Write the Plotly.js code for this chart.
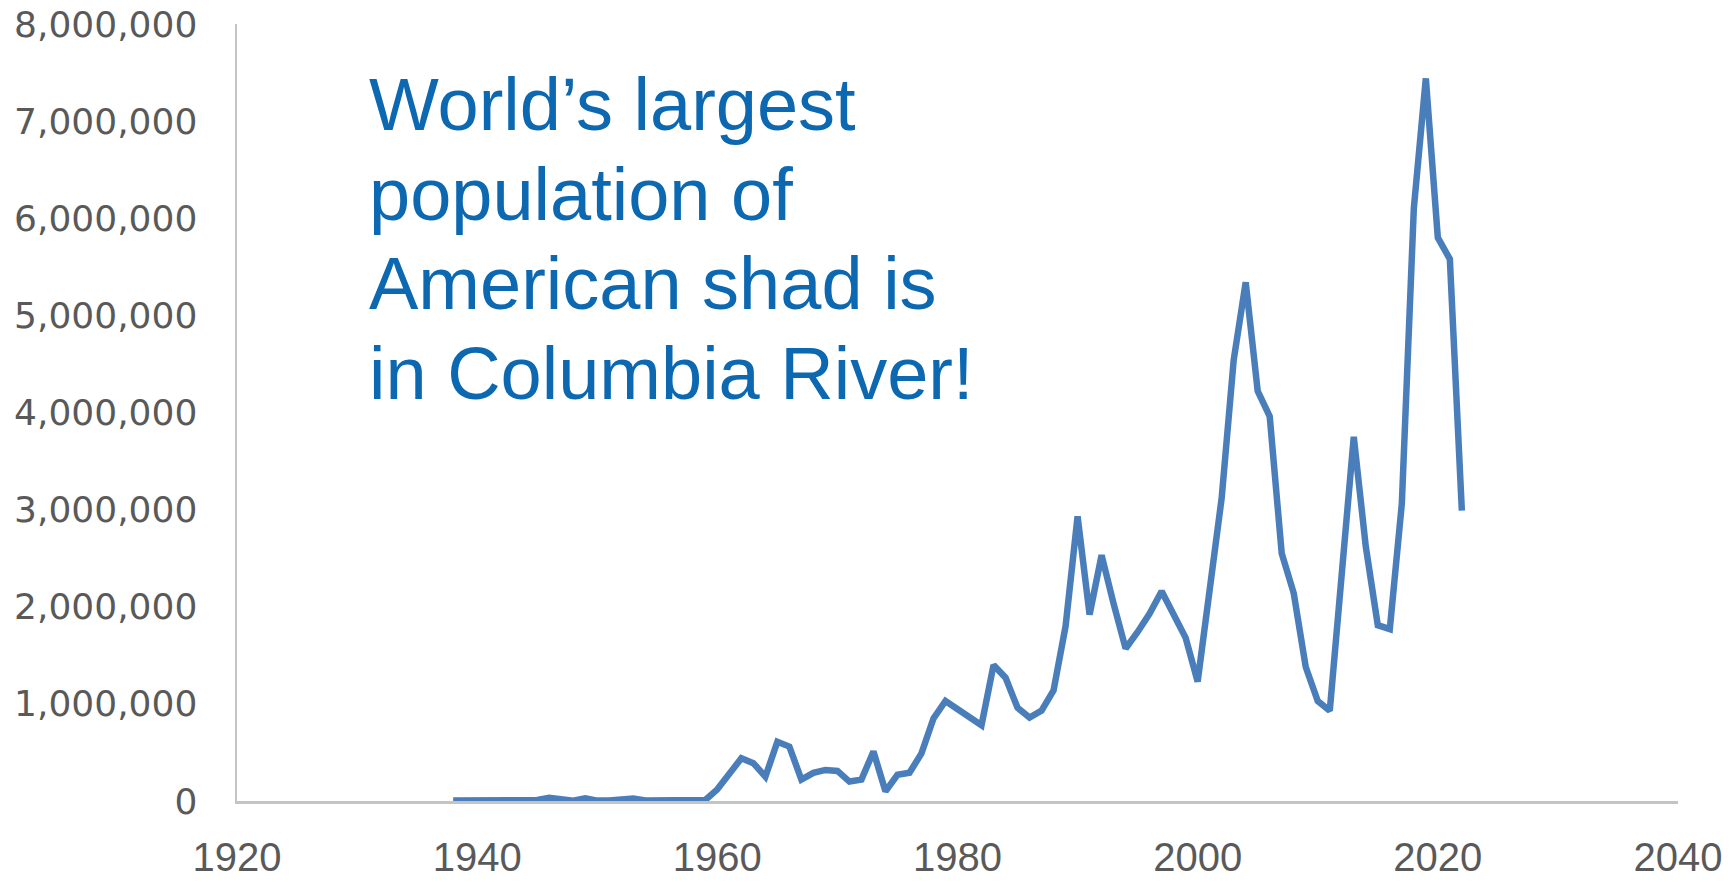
<!DOCTYPE html>
<html>
<head>
<meta charset="utf-8">
<script src="https://cdn.plot.ly/plotly-3.0.1.min.js"></script>
<style>
  html, body { margin: 0; padding: 0; background: #ffffff; }
  #chart { width: 1731px; height: 882px; }
</style>
</head>
<body>
<div id="chart"></div>
<script>
// Annual American shad counts, Columbia River
const years = [
  1938, 1939, 1940, 1941, 1942, 1943, 1944, 1945, 1946, 1947,
  1948, 1949, 1950, 1951, 1952, 1953, 1954, 1955, 1956, 1957,
  1958, 1959, 1960, 1961, 1962, 1963, 1964, 1965, 1966, 1967,
  1968, 1969, 1970, 1971, 1972, 1973, 1974, 1975, 1976, 1977,
  1978, 1979, 1980, 1981, 1982, 1983, 1984, 1985, 1986, 1987,
  1988, 1989, 1990, 1991, 1992, 1993, 1994, 1995, 1996, 1997,
  1998, 1999, 2000, 2001, 2002, 2003, 2004, 2005, 2006, 2007,
  2008, 2009, 2010, 2011, 2012, 2013, 2014, 2015, 2016, 2017,
  2018, 2019, 2020, 2021, 2022
];

const shadCounts = [
  4000, 3000, 3000, 2000, 3000, 2000, 5000, 10000, 32000, 18000,
  4000, 28000, 4000, 5000, 8000, 26000, 6000, 4000, 4000, 5000,
  5000, 10000, 120000, 280000, 440000, 390000, 250000, 610000, 560000, 220000,
  290000, 320000, 310000, 200000, 220000, 510000, 100000, 270000, 290000, 490000,
  850000, 1030000, 940000, 860000, 780000, 1400000, 1270000, 960000, 860000, 930000,
  1140000, 1800000, 2930000, 1920000, 2530000, 2030000, 1570000, 1740000, 1930000, 2160000,
  1930000, 1680000, 1230000, 2210000, 3120000, 4540000, 5340000, 4220000, 3960000, 2550000,
  2140000, 1380000, 1030000, 930000, 2300000, 3750000, 2620000, 1810000, 1770000, 3060000,
  6100000, 7440000, 5800000, 5580000, 2990000
];

const xTicks = [1920, 1940, 1960, 1980, 2000, 2020, 2040];
const yTicks = [0, 1000000, 2000000, 3000000, 4000000, 5000000, 6000000, 7000000, 8000000];

const calloutLines = [
  "World’s largest",
  "population of",
  "American shad is",
  "in Columbia River!"
];

const trace = {
  x: years,
  y: shadCounts,
  type: 'scatter',
  mode: 'lines',
  line: { color: '#4A7EBB', width: 6.5 },
  cliponaxis: false,
  hoverinfo: 'x+y'
};

// callout text, one annotation per line so the leading stays tight
const calloutTop = 0.896;
const calloutStep = 0.1153;
const annotations = calloutLines.map((txt, i) => ({
  text: txt,
  xref: 'paper', yref: 'paper',
  x: 0.0905, y: calloutTop - i * calloutStep,
  xanchor: 'left', yanchor: 'middle',
  showarrow: false,
  align: 'left',
  font: { family: 'Liberation Sans, Arial, sans-serif', size: 74, color: '#0B68B1' }
}));

const layout = {
  width: 1731,
  height: 882,
  margin: { l: 237, r: 53, t: 24, b: 81 },
  paper_bgcolor: '#ffffff',
  plot_bgcolor: '#ffffff',
  showlegend: false,
  xaxis: {
    range: [1920, 2040],
    tickvals: xTicks,
    ticktext: xTicks.map(String),
    showgrid: false,
    zeroline: false,
    showline: true,
    linecolor: '#C4C4C4',
    linewidth: 3,
    ticks: '',
    ticklabelstandoff: 19,
    layer: 'below traces',
    tickfont: { family: 'Liberation Sans Narrow, Liberation Sans, Arial, sans-serif', size: 40, color: '#595959' }
  },
  yaxis: {
    range: [0, 8000000],
    tickvals: yTicks,
    tickformat: ',d',
    showgrid: false,
    zeroline: false,
    showline: true,
    linecolor: '#C4C4C4',
    linewidth: 2.5,
    ticks: '',
    ticklabelstandoff: 30,
    layer: 'below traces',
    tickfont: { family: 'DejaVu Sans, Verdana, sans-serif', size: 36, color: '#595959' }
  },
  annotations: annotations
};

Plotly.newPlot('chart', [trace], layout, { displayModeBar: false, staticPlot: true });
</script>
</body>
</html>
